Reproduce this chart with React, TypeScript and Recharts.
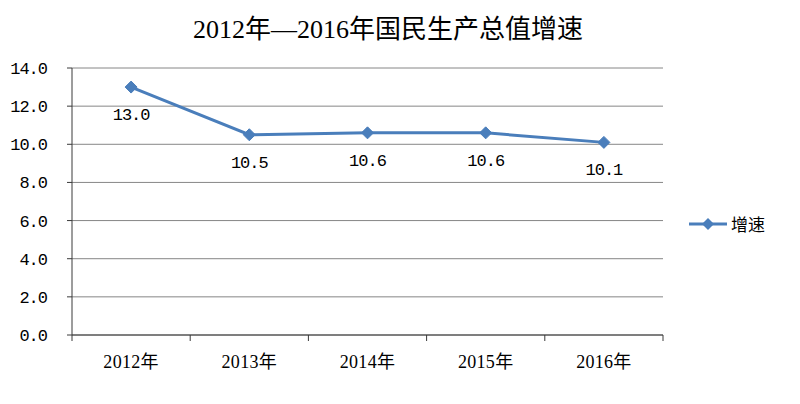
import React from 'react';
import { LineChart, Line, XAxis, YAxis, CartesianGrid, Legend, LabelList } from 'recharts';

const categories = ['2012年', '2013年', '2014年', '2015年', '2016年'];
const growth = [13.0, 10.5, 10.6, 10.6, 10.1];
const yTicks = [0, 2, 4, 6, 8, 10, 12, 14];
const seriesName = '增速';
const title = '2012年—2016年国民生产总值增速';

const LINE_COLOR = '#4a7ebb';
const GRID_COLOR = '#868686';
const AXIS_COLOR = '#3a3a3a';
const MONO = '"Liberation Mono", "DejaVu Sans Mono", monospace';
const SERIF_CJK = '"Liberation Serif", "Noto Sans CJK SC", serif';

const data = categories.map((c, i) => ({ pos: i + 0.5, name: c, value: growth[i] }));
const xTicks: number[] = [];
for (let i = 0; i <= categories.length; i++) {
  xTicks.push(i);
  if (i < categories.length) xTicks.push(i + 0.5);
}

const XTick = (props: any) => {
  const { x, y, payload } = props;
  const v = payload.value as number;
  if (Number.isInteger(v)) {
    return <line x1={x} x2={x} y1={y} y2={y + 6} stroke={AXIS_COLOR} strokeWidth={1} />;
  }
  return (
    <text x={x} y={y + 33} textAnchor="middle" fontFamily={SERIF_CJK} fontSize={18} letterSpacing={0.3} fill="#000">
      {categories[Math.floor(v)]}
    </text>
  );
};

const Diamond = (props: any) => {
  const { cx, cy } = props;
  if (cx == null || cy == null) return null;
  const r = 6;
  return (
    <path
      d={`M${cx},${cy - r}L${cx + r},${cy}L${cx},${cy + r}L${cx - r},${cy}Z`}
      fill={LINE_COLOR}
      stroke={LINE_COLOR}
    />
  );
};

const LegendContent = () => (
  <div style={{ display: 'flex', alignItems: 'center' }}>
    <svg width={40} height={14}>
      <line x1={1} x2={39} y1={7} y2={7} stroke={LINE_COLOR} strokeWidth={3} />
      <path d="M20,1L26,7L20,13L14,7Z" fill={LINE_COLOR} />
    </svg>
    <span style={{ fontFamily: SERIF_CJK, fontSize: 17, color: '#000', marginLeft: 3 }}>{seriesName}</span>
  </div>
);

const numStyle = { fontFamily: MONO, fontSize: 17, letterSpacing: -1, fill: '#000' };

export default function App() {
  return (
    <div style={{ position: 'absolute', left: 0, top: 0, width: 800, height: 404, background: '#fff' }}>
      <div
        style={{
          position: 'absolute',
          left: 0,
          top: 12,
          width: 776,
          textAlign: 'center',
          fontFamily: SERIF_CJK,
          fontSize: 26,
          lineHeight: '36px',
          color: '#000',
        }}
      >
        {title}
      </div>
      <LineChart
        width={800}
        height={404}
        data={data}
        margin={{ top: 68, right: 37, left: 12, bottom: 39 }}
      >
        <CartesianGrid vertical={false} stroke={GRID_COLOR} strokeWidth={1} />
        <XAxis
          type="number"
          dataKey="pos"
          domain={[0, categories.length]}
          ticks={xTicks}
          interval={0}
          tick={<XTick />}
          tickLine={false}
          tickSize={0}
          tickMargin={0}
          height={30}
          axisLine={{ stroke: AXIS_COLOR, strokeWidth: 1 }}
        />
        <YAxis
          type="number"
          domain={[0, 14]}
          ticks={yTicks}
          interval={0}
          width={60}
          tickSize={5}
          tickMargin={20}
          tickFormatter={(v: number) => v.toFixed(1)}
          tick={numStyle}
          tickLine={{ stroke: AXIS_COLOR }}
          axisLine={{ stroke: AXIS_COLOR, strokeWidth: 1 }}
        />
        <Legend
          layout="vertical"
          align="right"
          verticalAlign="middle"
          content={<LegendContent />}
          wrapperStyle={{ left: 688, top: 211, width: 100 }}
        />
        <Line
          type="linear"
          dataKey="value"
          name={seriesName}
          stroke={LINE_COLOR}
          strokeWidth={3}
          dot={<Diamond />}
          activeDot={false}
          isAnimationActive={false}
        >
          <LabelList
            dataKey="value"
            position="bottom"
            offset={21}
            formatter={(v: any) => Number(v).toFixed(1)}
            style={numStyle}
          />
        </Line>
      </LineChart>
    </div>
  );
}
